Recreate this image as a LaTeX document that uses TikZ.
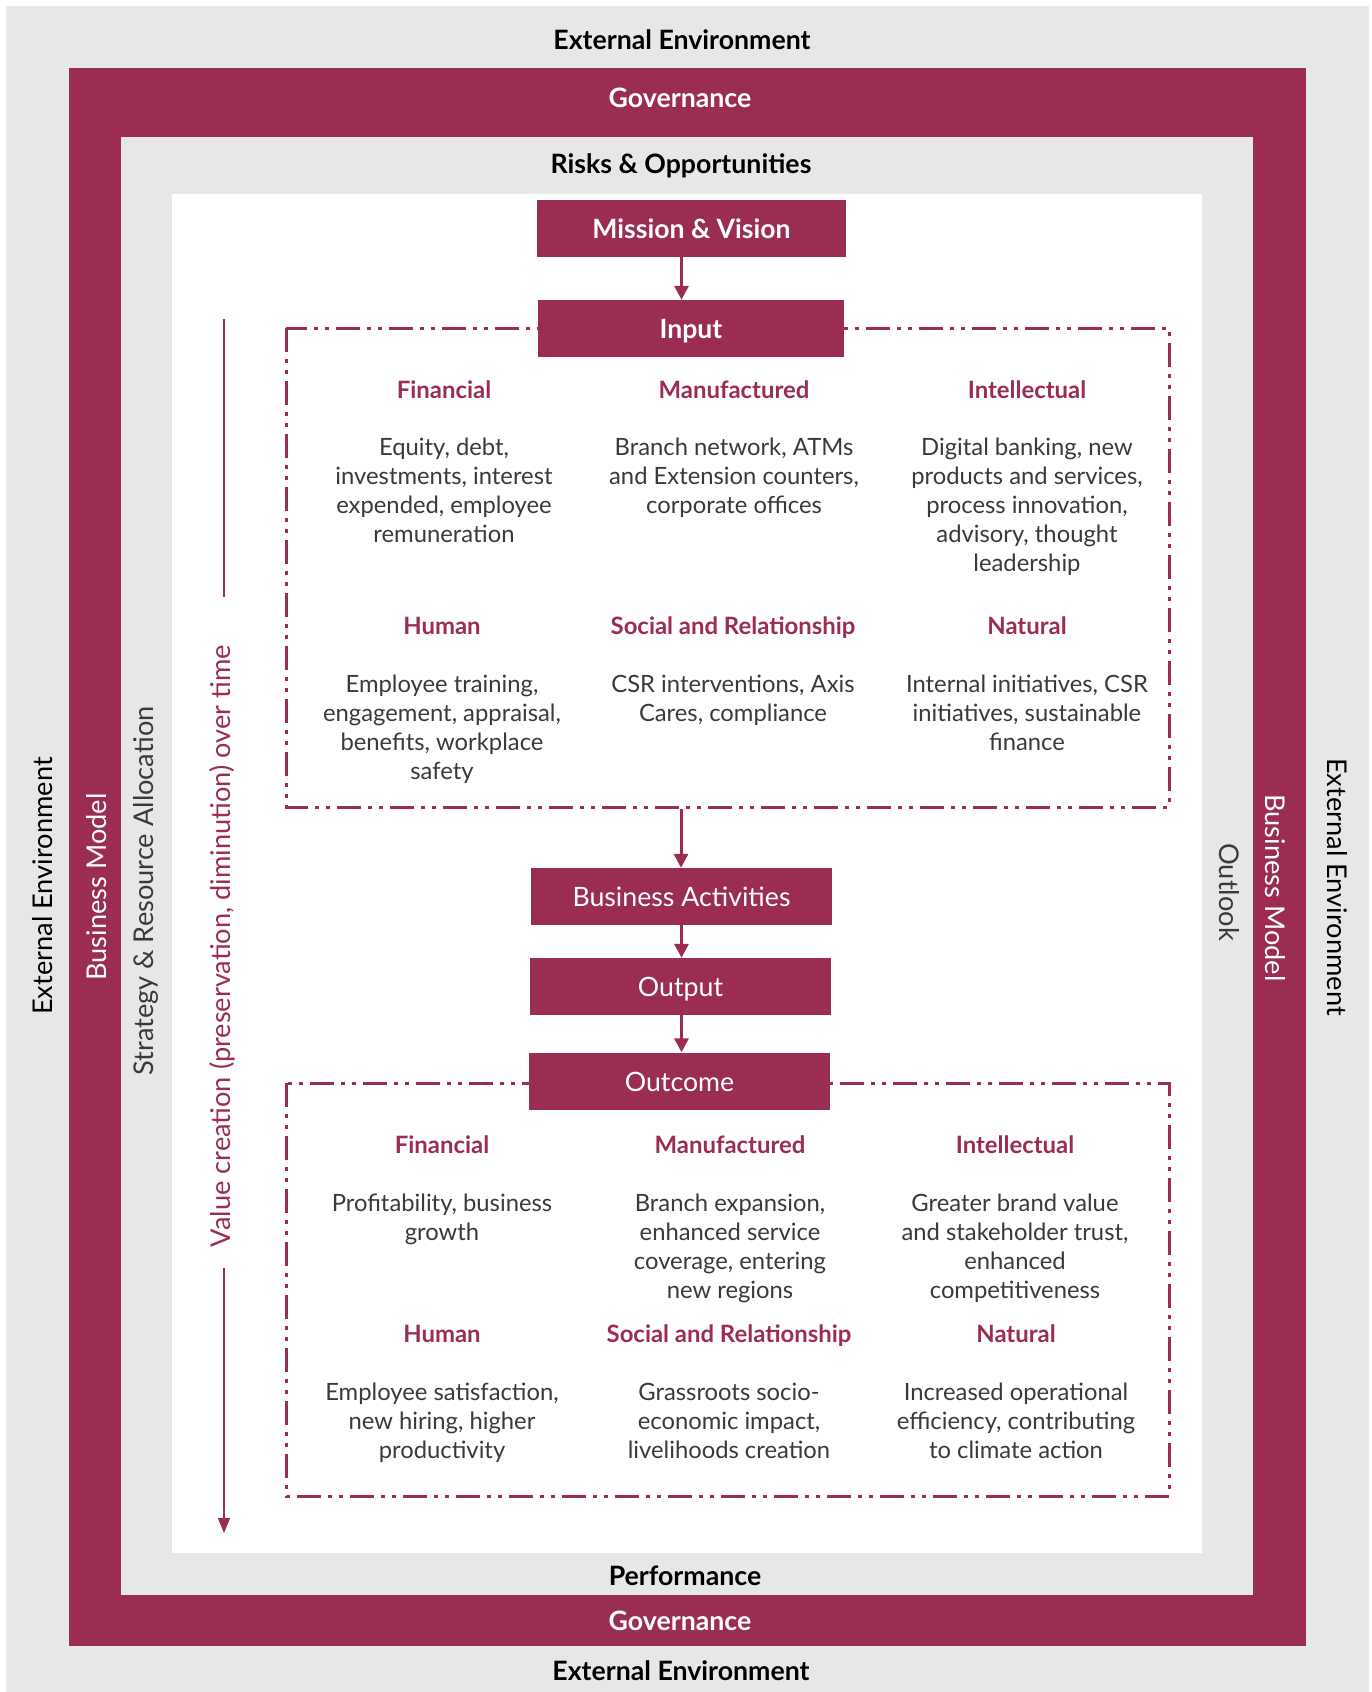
\documentclass[tikz,border=0pt]{standalone}
\usepackage{fontspec}
\setmainfont{Lato}
\usetikzlibrary{arrows.meta}
\definecolor{maroon}{HTML}{9B2D55}
\definecolor{envgrey}{HTML}{E6E7E9}
\definecolor{bodytext}{HTML}{3A3A3A}
\tikzset{
  band/.style={anchor=base, inner sep=0pt, text=black, font=\fontsize{26.7}{30}\selectfont\bfseries},
  sideband/.style={anchor=base, inner sep=0pt, font=\fontsize{27.2}{30}\selectfont},
  flowbox/.style={fill=maroon, text=white, minimum height=57pt, inner sep=0pt,
                  text height=21pt, text depth=1pt, font=\fontsize{26.7}{30}\selectfont},
  flowboxbold/.style={flowbox, font=\fontsize{26.6}{30}\selectfont\bfseries},
  capname/.style={anchor=base, inner sep=0pt, text=maroon, font=\fontsize{23.9}{28}\selectfont\bfseries},
  capbody/.style={anchor=north, inner sep=0pt, text=bodytext, align=center,
                  font=\fontsize{23.8}{29}\selectfont},
  capframe/.style={draw=maroon, line width=3pt,
                   dash pattern=on 24pt off 7pt on 4pt off 7pt on 4pt off 7pt},
  flow/.style={draw=maroon, line width=3pt, -{Triangle[width=14pt,length=14pt]}},
  timeline/.style={draw=maroon, line width=1.5pt},
}
\begin{document}
\begin{tikzpicture}[x=1pt,y=-1pt]
\useasboundingbox (0,0) rectangle (1372,1692);
% nested frames
\fill[white] (0,0) rectangle (1372,1692);
\fill[envgrey] (6,6) rectangle (1369,1692);
\fill[maroon] (69,68) rectangle (1306,1646);
\fill[envgrey] (121,137) rectangle (1253,1595);
\fill[white] (172,194) rectangle (1202,1553);

% horizontal band labels
\node[band] (extT) at (682,49) {External Environment};
\node[band,text=white] (govT) at (680,107) {Governance};
\node[band] (risk) at (681,173.5) {Risks \& Opportunities};
\node[band] (perf) at (685,1585) {Performance};
\node[band,text=white] (govB) at (680,1630) {Governance};
\node[band] (extB) at (681,1680.5) {External Environment};

% vertical band labels
\node[sideband, rotate=90, text=black] (extL) at (52,886) {External Environment};
\node[sideband, rotate=90, text=white] (bmL) at (106,887) {Business Model};
\node[sideband, rotate=90, text=bodytext] (strat) at (153,891) {Strategy \& Resource Allocation};
\node[sideband, rotate=-90, text=bodytext] (outlook) at (1219,892) {Outlook};
\node[sideband, rotate=-90, text=white] (bmR) at (1265,888) {Business Model};
\node[sideband, rotate=-90, text=black] (extR) at (1327,887) {External Environment};

% capital frames
\draw[capframe] (286,328) rectangle (1169,807);
\draw[capframe] (286,1083) rectangle (1169,1496);

% flow boxes
\node[flowboxbold, minimum width=309pt] (mission) at (691.5,228.5) {Mission \& Vision};
\node[flowboxbold, minimum width=306pt] (input) at (691,328.5) {Input};
\node[flowbox, minimum width=301pt] (ba) at (681.5,896.5) {Business Activities};
\node[flowbox, minimum width=301pt] (output) at (680.5,986.5) {Output};
\node[flowbox, minimum width=301pt] (outcome) at (679.5,1081) {Outcome};

\coordinate (inframebottom) at (681,809);
\draw[flow] (mission.south -| ba) -- (input.north -| ba);
\draw[flow] (inframebottom) -- (ba.north -| inframebottom);
\draw[flow] (ba.south) -- (output.north -| ba);
\draw[flow] (output.south -| ba) -- (outcome.north -| ba);

% value creation timeline
\node[sideband, rotate=90, text=maroon] (vc) at (230,946) {Value creation (preservation, diminution) over time};
\coordinate (vtop) at (224,319);
\coordinate (vgap1) at (224,597);
\coordinate (vgap2) at (224,1268);
\coordinate (vbot) at (224,1533);
\draw[timeline] (vtop) -- (vgap1);
\draw[timeline, -{Triangle[width=12pt,length=15pt]}] (vgap2) -- (vbot);

% input capitals
\node[capname] (iFin) at (444,398) {Financial};
\node[capname] (iMan) at (734,398) {Manufactured};
\node[capname] (iInt) at (1027,398) {Intellectual};
\node[capbody] (iFinB) at (444,438) {Equity, debt,\\investments, interest\\expended, employee\\remuneration};
\node[capbody] (iManB) at (734,438) {Branch network, ATMs\\and Extension counters,\\corporate offices};
\node[capbody] (iIntB) at (1027,438) {Digital banking, new\\products and services,\\process innovation,\\advisory, thought\\leadership};
\node[capname] (iHum) at (442,634) {Human};
\node[capname] (iSoc) at (733,634) {Social and Relationship};
\node[capname] (iNat) at (1027,634) {Natural};
\node[capbody] (iHumB) at (442,675) {Employee training,\\engagement, appraisal,\\benefits, workplace\\safety};
\node[capbody] (iSocB) at (733,675) {CSR interventions, Axis\\Cares, compliance};
\node[capbody] (iNatB) at (1027,675) {Internal initiatives, CSR\\initiatives, sustainable\\finance};

% outcome capitals
\node[capname] (oFin) at (442,1153) {Financial};
\node[capname] (oMan) at (730,1153) {Manufactured};
\node[capname] (oInt) at (1015,1153) {Intellectual};
\node[capbody] (oFinB) at (442,1194) {Profitability, business\\growth};
\node[capbody] (oManB) at (730,1194) {Branch expansion,\\enhanced service\\coverage, entering\\new regions};
\node[capbody] (oIntB) at (1015,1194) {Greater brand value\\and stakeholder trust,\\enhanced\\competitiveness};
\node[capname] (oHum) at (442,1342) {Human};
\node[capname] (oSoc) at (729,1342) {Social and Relationship};
\node[capname] (oNat) at (1016,1342) {Natural};
\node[capbody] (oHumB) at (442,1383) {Employee satisfaction,\\new hiring, higher\\productivity};
\node[capbody] (oSocB) at (729,1383) {Grassroots socio-\\economic impact,\\livelihoods creation};
\node[capbody] (oNatB) at (1016,1383) {Increased operational\\efficiency, contributing\\to climate action};
\end{tikzpicture}
\end{document}
